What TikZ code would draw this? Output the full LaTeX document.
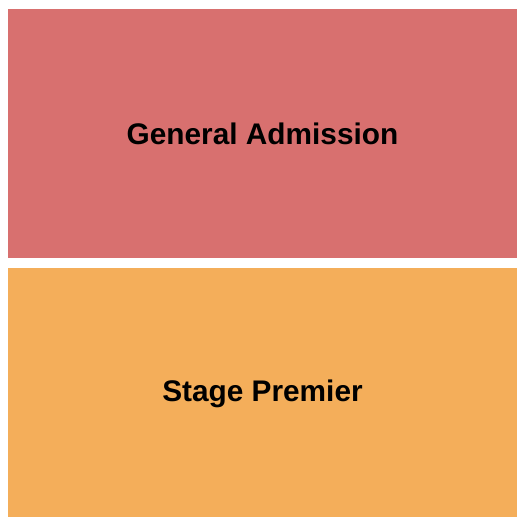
\documentclass[tikz,border=0pt]{standalone}
\usepackage{fontspec}
\setmainfont{Liberation Sans}
\definecolor{garea}{HTML}{D8706F}
\definecolor{sarea}{HTML}{F4AE5A}
\begin{document}
\begin{tikzpicture}[x=1pt,y=-1pt,
  area/.style={draw=none,inner sep=0pt,minimum width=509pt,minimum height=249pt},
  lbl/.style={font=\fontsize{29.8}{34}\selectfont\bfseries,text=black}]
\useasboundingbox (0,0) rectangle (525,525);
\fill[white] (0,0) rectangle (525,525);
\node[area,fill=garea] (ga) at (262.5,133.5) {};
\node[area,fill=sarea] (sp) at (262.5,392.5) {};
\node[lbl] (galbl) at (ga.center) {General Admission};
\node[lbl] (splbl) at ([yshift=-1.5pt]sp.center) {Stage Premier};
\end{tikzpicture}
\end{document}
